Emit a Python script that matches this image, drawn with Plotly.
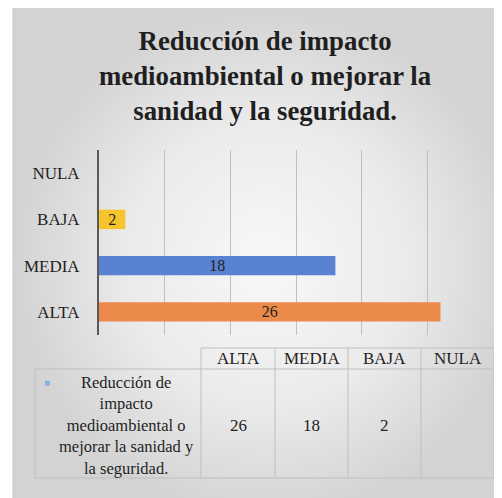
import plotly.graph_objects as go

# page body adds an 8px margin, so the figure sits at (8, 8) in the window
OX, OY = 8, 8
W, H = 494, 490

categories = ["ALTA", "MEDIA", "BAJA", "NULA"]
values = [26, 18, 2, None]
bar_colors = ["#EC8A4C", "#5A82D2", "#F8C42E", "#A5A5A5"]
series_name = "Reducción de<br>impacto<br>medioambiental o<br>mejorar la sanidad y<br>la seguridad."
title = "Reducción de impacto<br>medioambiental o mejorar la<br>sanidad y la seguridad."

SERIF = "Liberation Serif, Times New Roman, serif"
TXT = "#1f1f1f"
GRID = "#bfbfbf"


def px_x(v):
    return (v - OX) / W


def px_y(v):
    return 1 - (v - OY) / H


fig = go.Figure()

# chart area with a soft radial gradient
fig.add_trace(go.Scatter(
    x=[13, 520, 520, 13, 13], y=[7, 7, 520, 520, 7],
    mode="lines", fill="toself",
    line=dict(color="#c6c6c6", width=1),
    fillgradient=dict(type="radial",
                      colorscale=[[0, "#f8f8f8"], [0.55, "#ebebeb"], [1, "#d3d3d3"]]),
    hoverinfo="skip", showlegend=False,
    xaxis="x", yaxis="y",
))

labels = ["" if v is None else str(v) for v in values]
fig.add_trace(go.Bar(
    y=categories, x=[0 if v is None else v for v in values],
    orientation="h",
    marker=dict(color=bar_colors, line=dict(width=0)),
    width=0.42,
    text=labels, textposition="inside", insidetextanchor="middle",
    textangle=0, constraintext="none",
    textfont=dict(family=SERIF, size=16, color=TXT),
    showlegend=False, hoverinfo="skip",
    xaxis="x2", yaxis="y2",
))

# data table below the chart (layout grid in window pixels)
col_x = [201, 275, 348, 421, 494]
first_x = 35
head_top, head_bot, body_bot = 348, 369, 478

shapes = []


def hline(x0, x1, y):
    shapes.append(dict(type="line", xref="paper", yref="paper",
                       x0=px_x(x0), x1=px_x(x1), y0=px_y(y), y1=px_y(y),
                       line=dict(color=GRID, width=1)))


def vline(x, y0, y1):
    shapes.append(dict(type="line", xref="paper", yref="paper",
                       x0=px_x(x), x1=px_x(x), y0=px_y(y0), y1=px_y(y1),
                       line=dict(color=GRID, width=1)))


hline(col_x[0], col_x[-1], head_top)
hline(first_x, col_x[-1], head_bot)
hline(first_x, col_x[-1], body_bot)
vline(first_x, head_bot, body_bot)
for cx in col_x:
    vline(cx, head_top, body_bot)

annotations = [
    dict(text="<b>" + title + "</b>", x=px_x(265), y=px_y(76),
         xref="paper", yref="paper", xanchor="center", yanchor="middle",
         showarrow=False, font=dict(family=SERIF, size=26.8, color=TXT)),
    dict(text="■", x=px_x(47), y=px_y(382), xref="paper", yref="paper",
         xanchor="center", yanchor="middle", showarrow=False,
         font=dict(size=10, color="#8aaee0")),
    dict(text=series_name, x=px_x(126), y=px_y(425), xref="paper", yref="paper",
         xanchor="center", yanchor="middle", align="center", showarrow=False,
         font=dict(family=SERIF, size=16.5, color=TXT)),
]
for i, (cat, lab) in enumerate(zip(categories, labels)):
    cx = (col_x[i] + col_x[i + 1]) / 2
    annotations.append(dict(text=cat, x=px_x(cx), y=px_y((head_top + head_bot) / 2),
                            xref="paper", yref="paper", showarrow=False,
                            xanchor="center", yanchor="middle",
                            font=dict(family=SERIF, size=17, color=TXT)))
    annotations.append(dict(text=lab, x=px_x(cx), y=px_y(425),
                            xref="paper", yref="paper", showarrow=False,
                            xanchor="center", yanchor="middle",
                            font=dict(family=SERIF, size=17, color=TXT)))

fig.update_layout(
    width=W, height=H,
    margin=dict(l=0, r=0, t=0, b=0),
    paper_bgcolor="white", plot_bgcolor="rgba(0,0,0,0)",
    xaxis=dict(domain=[0, 1], range=[OX, OX + W], visible=False, fixedrange=True),
    yaxis=dict(domain=[0, 1], range=[OY + H, OY], visible=False, fixedrange=True),
    xaxis2=dict(domain=[px_x(99), px_x(493)], range=[0, 30], dtick=5,
                showgrid=True, gridcolor=GRID, gridwidth=1,
                showticklabels=False, zeroline=False, anchor="y2"),
    yaxis2=dict(domain=[px_y(335), px_y(150)], categoryorder="array",
                categoryarray=categories, showline=True, linecolor="#5a5a5a",
                linewidth=2, ticks="", ticklabelstandoff=14,
                tickfont=dict(family=SERIF, size=17, color=TXT), anchor="x2"),
    showlegend=False,
    shapes=shapes,
    annotations=annotations,
)

fig.write_html("out.html")
